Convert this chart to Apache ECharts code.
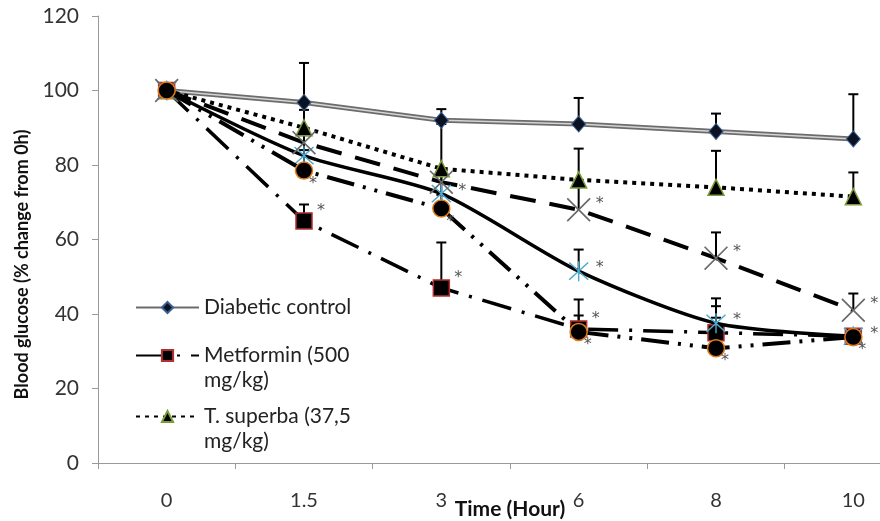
<!DOCTYPE html>
<html>
<head>
<meta charset="utf-8">
<script src="https://cdn.jsdelivr.net/npm/echarts@6/dist/echarts.min.js"></script>
<style>
    html, body { margin: 0; padding: 0; background: #fff; overflow: hidden; }
    #chart { width: 930px; height: 521px; }
</style>
</head>
<body>
<div id="chart"></div>
<script>
// x categories (hours)
var hours = ['0', '1.5', '3', '6', '8', '10'];

// mean values (% of 0h)
var diabetic = [100, 96.8, 92, 91, 89, 87];
var metformin = [100, 65, 47, 36, 35, 34];
var superba37 = [100, 90, 79, 76, 74, 71.5];
var group4 = [100, 82.5, 72.3, 51.5, 37.5, 34];
var group5 = [100, 86, 75.4, 68, 55, 41];
var group6 = [100, 78.5, 68.3, 35.2, 30.8, 33.8];

// top of the (upper) error bars
var diabeticTop = [null, 107.4, 95, 98, 93.8, 99];
var metforminTop = [null, 69.4, 59.2, 39.6, 39, null];
var superba37Top = [null, 94.8, 91, 84.4, 83.8, 78];
var group4Top = [null, 88, 78, 57.3, 44.2, null];
var group5Top = [null, 90, 79, 76, 61.9, 45.5];
var group6Top = [null, 84, 72, 43.9, 42.1, null];

// significance marks (*)
var metforminSig = [0, 1, 1, 1, 0, 0];
var group4Sig = [0, 0, 1, 1, 1, 1];
var group5Sig = [0, 0, 0, 1, 1, 1];
var group6Sig = [0, 1, 1, 1, 1, 1];

var FONT = 'Lato, "Open Sans", sans-serif';

var xPath = 'path://M-10,-9 L-9,-10 L10,9 L9,10 Z M9,-10 L10,-9 L-9,10 L-10,9 Z';
var starPath = 'path://M-10,-9 L-9,-10 L10,9 L9,10 Z M9,-10 L10,-9 L-9,10 L-10,9 Z M-0.7,-11 L0.7,-11 L0.7,11 L-0.7,11 Z';

function errorBars(name, values, tops) {
    var data = [];
    for (var i = 0; i < values.length; i++) {
        if (tops[i] != null) data.push([i, values[i], tops[i]]);
    }
    return {
        type: 'custom',
        name: name + ' err',
        data: data,
        z: 1,
        encode: { x: 0, y: [1, 2] },
        renderItem: function (params, api) {
            var x = api.value(0);
            var p0 = api.coord([x, api.value(1)]);
            var p1 = api.coord([x, api.value(2)]);
            return {
                type: 'group',
                children: [
                    { type: 'line', shape: { x1: p0[0], y1: p0[1], x2: p1[0], y2: p1[1] },
                      style: { stroke: '#000', lineWidth: 2 } },
                    { type: 'line', shape: { x1: p1[0] - 5, y1: p1[1], x2: p1[0] + 5, y2: p1[1] },
                      style: { stroke: '#000', lineWidth: 2 } }
                ]
            };
        }
    };
}

function sigLabel(flags, offset) {
    return {
        show: true,
        position: 'inside',
        offset: offset,
        color: '#555',
        fontSize: 16,
        fontFamily: 'DejaVu Sans',
        formatter: function (p) { return flags[p.dataIndex] ? '*' : ''; }
    };
}

var legendNames = {
    'Diabetic control': 'Diabetic control',
    'Metformin (500 mg/kg)': '\nMetformin (500\nmg/kg)',
    'T. superba (37,5 mg/kg)': '\nT. superba (37,5\nmg/kg)'
};

function legendFor(name, top) {
    return {
        data: [name],
        left: 135,
        top: top,
        padding: 0,
        orient: 'vertical',
        itemWidth: 63,
        itemHeight: 14,
        itemGap: 0,
        selectedMode: false,
        formatter: function (n) { return legendNames[n]; },
        textStyle: { fontFamily: FONT, fontSize: 21, color: '#222', lineHeight: 25, padding: [0, 0, 0, 0] }
    };
}

var chart = echarts.init(document.getElementById('chart'));
chart.setOption({
    animation: false,
    backgroundColor: '#fff',
    grid: { left: 98, right: 8, top: 16, bottom: 58, containLabel: false, outerBoundsMode: 'none' },
    legend: [
        legendFor('Diabetic control', 295),
        legendFor('Metformin (500 mg/kg)', 318),
        legendFor('T. superba (37,5 mg/kg)', 379)
    ],
    xAxis: {
        type: 'category',
        data: hours,
        boundaryGap: true,
        name: 'Time (Hour)',
        nameLocation: 'middle',
        nameGap: 36,
        nameMoveOverlap: false,
        nameTextStyle: { fontFamily: FONT, fontSize: 21, fontWeight: 'bold', color: '#111' },
        axisLine: { lineStyle: { color: '#9a9a9a', width: 1 } },
        axisTick: { show: true, length: 6, lineStyle: { color: '#9a9a9a' } },
        axisLabel: { fontFamily: FONT, fontSize: 20, color: '#333', margin: 28 }
    },
    yAxis: {
        type: 'value',
        min: 0,
        max: 120,
        interval: 20,
        name: 'Blood glucose (% change from 0h)',
        nameLocation: 'middle',
        nameGap: 67,
        nameMoveOverlap: false,
        nameTextStyle: { fontFamily: FONT, fontSize: 18, fontWeight: 'bold', color: '#111', padding: [0, 50, 0, 0] },
        splitLine: { show: false },
        axisLine: { show: true, lineStyle: { color: '#9a9a9a', width: 1 } },
        axisTick: { show: true, length: 6, lineStyle: { color: '#9a9a9a' } },
        axisLabel: { fontFamily: FONT, fontSize: 21, color: '#333', margin: 19 }
    },
    series: [
        errorBars('Diabetic control', diabetic, diabeticTop),
        errorBars('Metformin', metformin, metforminTop),
        errorBars('T. superba', superba37, superba37Top),
        errorBars('Group 4', group4, group4Top),
        errorBars('Group 5', group5, group5Top),
        errorBars('Group 6', group6, group6Top),
        {
            name: 'Diabetic control',
            type: 'line',
            data: diabetic,
            z: 3,
            symbol: 'diamond',
            symbolSize: [14, 16],
            itemStyle: { color: '#0b1322', borderColor: '#3b5f93', borderWidth: 1 },
            lineStyle: { color: '#6c6c6c', width: 5 }
        },
        {
            name: 'Diabetic control inner',
            type: 'line',
            data: diabetic,
            z: 3,
            symbol: 'none',
            silent: true,
            lineStyle: { color: '#d4d4d4', width: 1.5 }
        },
        {
            name: 'Metformin (500 mg/kg)',
            type: 'line',
            data: metformin,
            z: 4,
            symbol: 'rect',
            symbolSize: 16,
            itemStyle: { color: '#000', borderColor: '#b23030', borderWidth: 1.5 },
            lineStyle: { color: '#000', width: 3.5, type: [30, 11, 3, 11] },
            label: sigLabel(metforminSig, [17, -10])
        },
        {
            name: 'T. superba (37,5 mg/kg)',
            type: 'line',
            data: superba37,
            z: 4,
            symbol: 'triangle',
            symbolSize: 16,
            itemStyle: { color: '#000', borderColor: '#7c9b3a', borderWidth: 1.5 },
            lineStyle: { color: '#000', width: 4, type: [4, 5] }
        },
        {
            name: 'Group 4',
            type: 'line',
            data: group4,
            z: 5,
            smooth: 0.25,
            symbol: starPath,
            symbolSize: 20,
            itemStyle: { color: '#4aa9d0' },
            lineStyle: { color: '#000', width: 3.5 },
            label: sigLabel(group4Sig, [21, -3])
        },
        {
            name: 'Group 5',
            type: 'line',
            data: group5,
            z: 5,
            symbol: xPath,
            symbolSize: 24,
            itemStyle: { color: '#6a6a6a' },
            lineStyle: { color: '#000', width: 4, type: [26, 14] },
            label: sigLabel(group5Sig, [21, -6])
        },
        {
            name: 'Group 6',
            type: 'line',
            data: group6,
            z: 6,
            symbol: 'circle',
            symbolSize: 17,
            itemStyle: { color: '#000', borderColor: '#e07b1a', borderWidth: 1.5 },
            lineStyle: { color: '#000', width: 4, type: [28, 9, 3, 9, 3, 9] },
            label: sigLabel(group6Sig, [9, 13])
        }
    ]
});
</script>
</body>
</html>
